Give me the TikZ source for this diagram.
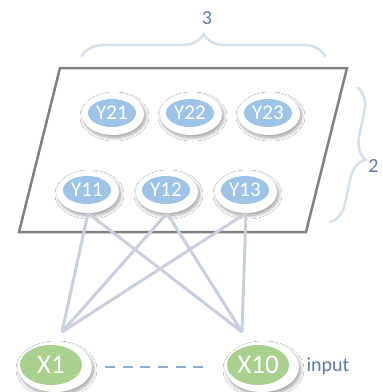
\documentclass[tikz,border=0pt]{standalone}
\usepackage{fontspec}
\setmainfont{Carlito}
\usetikzlibrary{shapes.geometric,decorations.pathreplacing,shadows.blur}
\definecolor{nodeblue}{HTML}{9DC3E6}
\definecolor{nodegreen}{HTML}{A9D18E}
\definecolor{linkgray}{HTML}{C8D0DF}
\definecolor{bracecol}{HTML}{D3E0EE}
\definecolor{labelcol}{HTML}{5B7BA8}
\definecolor{framegray}{HTML}{808080}
\definecolor{dashblue}{HTML}{8FB0D5}

\begin{document}
\begin{tikzpicture}[x=1pt,y=-1pt,
  halo/.style={ellipse, fill=white, inner sep=0pt,
    blur shadow={shadow xshift=1.5pt, shadow yshift=-2.5pt,
                 shadow blur radius=3.5pt, shadow blur steps=14,
                 shadow opacity=40}},
  yhalo/.style={halo, minimum width=62pt, minimum height=42pt},
  xhalo/.style={halo, minimum width=74pt, minimum height=50pt},
  ynode/.style={ellipse, fill=nodeblue, text=white, inner sep=0pt,
    minimum width=48pt, minimum height=28pt, font=\fontsize{21}{21}\selectfont},
  xnode/.style={ellipse, fill=nodegreen, text=white, inner sep=0pt,
    minimum width=62pt, minimum height=40pt, font=\fontsize{27}{27}\selectfont},
  link/.style={draw=linkgray, line width=3pt},
  bracestyle/.style={draw=bracecol, line width=2.5pt, line cap=round,
    decorate, decoration={brace, amplitude=22pt}},
  tag/.style={text=labelcol, font=\fontsize{20}{20}\selectfont}
]
\useasboundingbox (0,0) rectangle (383,392);
\fill[white] (0,0) rectangle (383,392);

% layer plane
\draw[framegray, line width=2.5pt, fill=white, line join=miter]
  (60,68) -- (347,68) -- (306,232) -- (19,232) -- cycle;

% hidden units: white halo with a soft shadow, coloured core on top
\node[yhalo] (y21h) at (113,114) {};
\node[yhalo] (y22h) at (191,114) {};
\node[yhalo] (y23h) at (269,114) {};
\node[yhalo] (y11h) at (88,192) {};
\node[yhalo] (y12h) at (167,192) {};
\node[yhalo] (y13h) at (246,192) {};
\node[ynode] (y21) at (112,113) {Y21};
\node[ynode] (y22) at (190,113) {Y22};
\node[ynode] (y23) at (268,113) {Y23};
\node[ynode] (y11) at (87,190) {Y11};
\node[ynode] (y12) at (166,190) {Y12};
\node[ynode] (y13) at (245,190) {Y13};

% input units
\node[xhalo] (x1h) at (55,367) {};
\node[xhalo] (x10h) at (262,367) {};
\node[xnode] (x1) at (51,365) {X1};
\node[xnode] (x10) at (258,365) {X10};
\coordinate (x1top) at (62,332);
\coordinate (x10top) at (242,332);

% full connections between input and first row
\foreach \u in {y11h,y12h,y13h}{
  \draw[link] (\u.south) -- (x1top);
  \draw[link] (\u.south) -- (x10top);
}

% ellipsis between inputs
\draw[dashblue, line width=2pt, dash pattern=on 10pt off 7.6pt,
      shorten <=13pt, shorten >=21pt] (x1h) -- (x10h);

% dimension braces
\draw[bracestyle] (82,56) -- (325,56);
\draw[bracestyle] (358,88) -- (330,222);
\node[tag] (three) at (207,18) {3};
\node[tag, anchor=east] (two) at (382,166) {2};
\node[tag, anchor=west] (inp) at (303,366) {input};
\end{tikzpicture}
\end{document}
